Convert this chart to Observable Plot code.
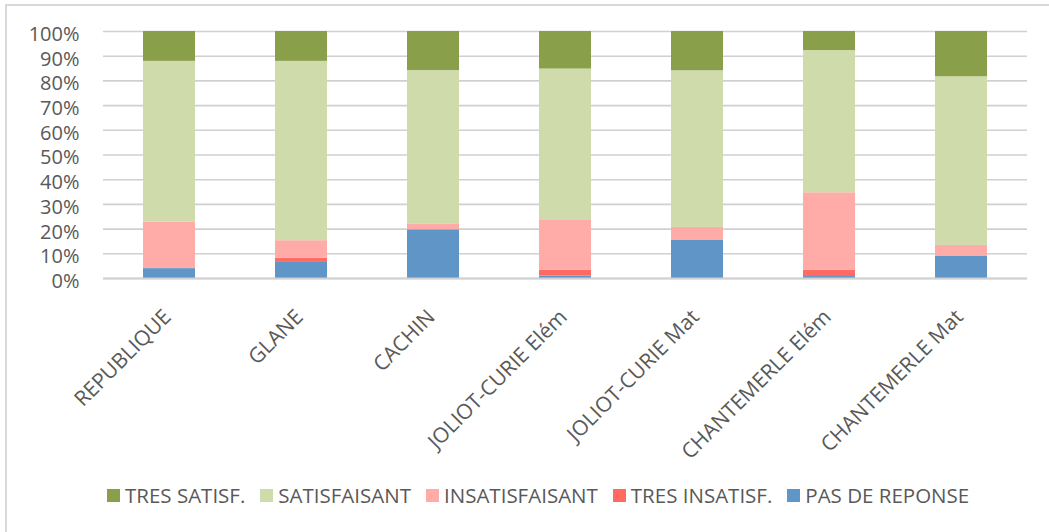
<!DOCTYPE html>
<html>
<head>
<meta charset="utf-8">
<script src="https://cdn.jsdelivr.net/npm/d3@7"></script>
<script src="https://cdn.jsdelivr.net/npm/@observablehq/plot@0.6"></script>
<style>
  html, body { margin: 0; padding: 0; background: #fff; width: 1049px; height: 532px; overflow: hidden; }
  #wrap { position: relative; width: 1049px; height: 532px; font-family: "Open Sans", sans-serif; color: #595959; }
  #frame { position: absolute; left: 5px; top: 4px; width: 1200px; height: 700px; border: 2px solid #d9d9d9; box-sizing: border-box; }
  #chart { position: absolute; left: 0; top: 0; }
  #legend { position: absolute; left: 107px; top: 481px; display: flex; align-items: center; font-size: 20.5px; white-space: nowrap; }
  .item { display: flex; align-items: center; margin-right: 15px; }
  .sw { width: 13px; height: 13px; margin-right: 5px; }
</style>
</head>
<body>
<div id="wrap">
  <div id="frame"></div>
  <div id="chart"></div>
  <div id="legend"></div>
</div>
<script>
// Categories (schools)
const schools = ["REPUBLIQUE", "GLANE", "CACHIN", "JOLIOT-CURIE Elém", "JOLIOT-CURIE Mat", "CHANTEMERLE Elém", "CHANTEMERLE Mat"];
// Series, bottom to top of the stack
const series = ["PAS DE REPONSE", "TRES INSATISF.", "INSATISFAISANT", "SATISFAISANT", "TRES SATISF."];
const colors = ["#6095c8", "#ff6b63", "#ffaba8", "#cfdbaa", "#8a9f4a"];
// Percentages per series (same order as schools)
const pasDeReponse   = [4.0, 6.5, 19.7, 1.0, 15.4, 0.8, 8.9];
const tresInsatisf   = [0.0, 1.7, 0.0, 2.4, 0.0, 2.6, 0.0];
const insatisfaisant = [18.8, 7.1, 2.2, 20.1, 5.3, 31.3, 4.5];
const satisfaisant   = [65.1, 72.6, 62.3, 61.3, 63.4, 57.6, 68.3];
const tresSatisf     = [12.1, 12.1, 15.8, 15.2, 15.9, 7.7, 18.3];
// Legend order
const legendOrder = ["TRES SATISF.", "SATISFAISANT", "INSATISFAISANT", "TRES INSATISF.", "PAS DE REPONSE"];
// Y ticks
const yTicks = [0, 10, 20, 30, 40, 50, 60, 70, 80, 90, 100];

const valuesBySeries = [pasDeReponse, tresInsatisf, insatisfaisant, satisfaisant, tresSatisf];
const data = [];
series.forEach((s, si) => {
  schools.forEach((c, ci) => data.push({school: c, series: s, value: valuesBySeries[si][ci]}));
});

const chart = Plot.plot({
  width: 1049,
  height: 470,
  marginTop: 31,
  marginBottom: 192,
  marginLeft: 103,
  marginRight: 22,
  style: {fontFamily: "Open Sans, sans-serif", fontSize: "20px", color: "#595959", background: "transparent"},
  x: {domain: schools, paddingInner: 0.606, paddingOuter: 0.303, label: null},
  y: {domain: [0, 100], label: null},
  color: {domain: series, range: colors},
  marks: [
    Plot.gridY(yTicks, {stroke: "#d0d0d0", strokeOpacity: 1, strokeWidth: 1.6}),
    Plot.barY(data, Plot.stackY({x: "school", y: "value", fill: "series", order: null})),
    Plot.ruleY([0], {stroke: "#d0d0d0", strokeWidth: 2}),
    Plot.axisY(yTicks, {tickSize: 0, tickPadding: 24, tickFormat: d => d + "%", fontSize: 20, dy: 3, label: null}),
    Plot.axisX({tickSize: 0, tickPadding: 0, tickRotate: -45, fontSize: 21, dx: -2, dy: 35, label: null})
  ]
});
document.getElementById("chart").appendChild(chart);

const legend = document.getElementById("legend");
legendOrder.forEach(name => {
  const item = document.createElement("div");
  item.className = "item";
  const sw = document.createElement("div");
  sw.className = "sw";
  sw.style.background = colors[series.indexOf(name)];
  const t = document.createElement("span");
  t.textContent = name;
  item.appendChild(sw);
  item.appendChild(t);
  legend.appendChild(item);
});
</script>
</body>
</html>
